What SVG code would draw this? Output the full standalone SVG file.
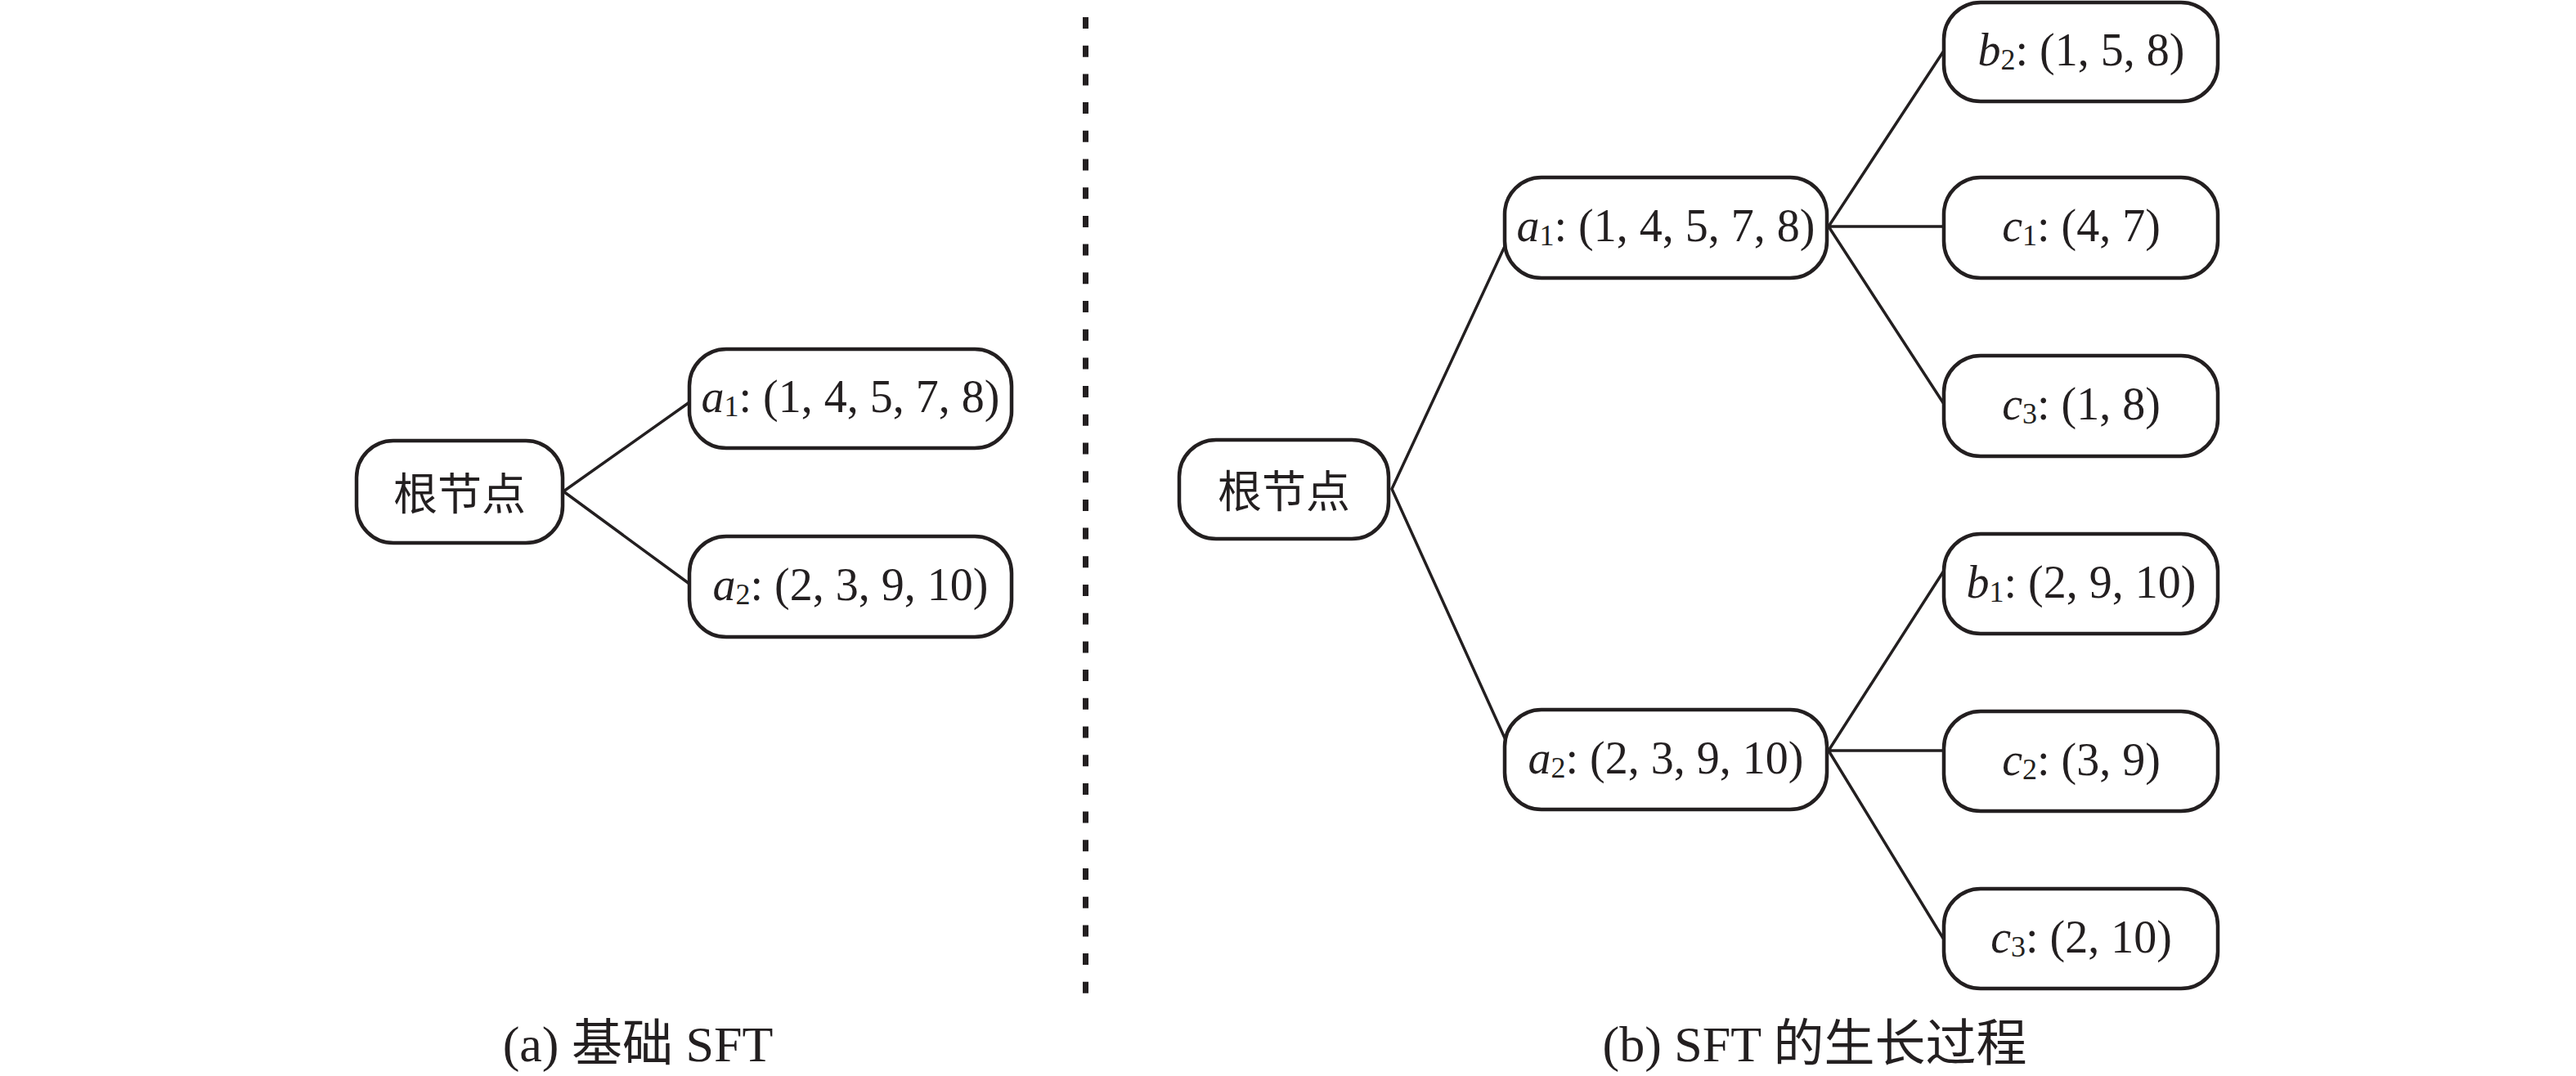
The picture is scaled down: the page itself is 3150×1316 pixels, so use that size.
<svg xmlns="http://www.w3.org/2000/svg" width="3150" height="1316" viewBox="0 0 3150 1316">
<style>
.box{fill:#fff;stroke:#231f20;stroke-width:4.5}
.ln{stroke:#231f20;stroke-width:3.5;fill:none;stroke-linecap:round}
.t{font-family:"Liberation Serif","Times New Roman",serif;font-size:56px;fill:#231f20;text-anchor:middle}
.cjk{font-family:"Noto Sans CJK SC",sans-serif;font-size:54px;fill:#231f20;text-anchor:middle}
.cap{font-family:"Liberation Serif","Noto Sans CJK SC",serif;font-size:62px;fill:#231f20;text-anchor:middle}
.i{font-style:italic}
.s{font-size:36px}
</style>
<rect width="3150" height="1316" fill="#fff"/>
<g id="connectors">
<path class="ln" d="M689,601 L843,492 M689,601 L843,714"/>
<path class="ln" d="M1702,598 L1842,297 M1702,598 L1842,907"/>
<path class="ln" d="M2236,277 L2377,62 M2236,277 L2377,277 M2236,277 L2377,494"/>
<path class="ln" d="M2236,918 L2377,698 M2236,918 L2377,918 M2236,918 L2377,1149"/>
</g>
<line id="divider" x1="1327.5" y1="21" x2="1327.5" y2="1215" stroke="#231f20" stroke-width="7" stroke-dasharray="14 20.7"/>
<g id="rootA"><rect class="box" x="436" y="539" width="252" height="125" rx="45" ry="45"/><text class="cjk" x="562" y="624">根节点</text></g>
<g id="a1A"><rect class="box" x="843" y="427" width="394" height="121" rx="45" ry="45"/><text class="t" x="1040" y="504"><tspan class="i">a</tspan><tspan class="s" dy="5">1</tspan><tspan dy="-5">: (1, 4, 5, 7, 8)</tspan></text></g>
<g id="a2A"><rect class="box" x="843" y="656" width="394" height="123" rx="45" ry="45"/><text class="t" x="1040" y="734"><tspan class="i">a</tspan><tspan class="s" dy="5">2</tspan><tspan dy="-5">: (2, 3, 9, 10)</tspan></text></g>
<g id="rootB"><rect class="box" x="1442" y="538" width="256" height="121" rx="45" ry="45"/><text class="cjk" x="1570" y="621">根节点</text></g>
<g id="a1B"><rect class="box" x="1840" y="217" width="394" height="123" rx="45" ry="45"/><text class="t" x="2037" y="295"><tspan class="i">a</tspan><tspan class="s" dy="5">1</tspan><tspan dy="-5">: (1, 4, 5, 7, 8)</tspan></text></g>
<g id="a2B"><rect class="box" x="1840" y="868" width="394" height="122" rx="45" ry="45"/><text class="t" x="2037" y="946"><tspan class="i">a</tspan><tspan class="s" dy="5">2</tspan><tspan dy="-5">: (2, 3, 9, 10)</tspan></text></g>
<g id="b2"><rect class="box" x="2377" y="3" width="335" height="121" rx="45" ry="45"/><text class="t" x="2545" y="80"><tspan class="i">b</tspan><tspan class="s" dy="5">2</tspan><tspan dy="-5">: (1, 5, 8)</tspan></text></g>
<g id="c1"><rect class="box" x="2377" y="217" width="335" height="123" rx="45" ry="45"/><text class="t" x="2545" y="295"><tspan class="i">c</tspan><tspan class="s" dy="5">1</tspan><tspan dy="-5">: (4, 7)</tspan></text></g>
<g id="c3a"><rect class="box" x="2377" y="435" width="335" height="123" rx="45" ry="45"/><text class="t" x="2545" y="513"><tspan class="i">c</tspan><tspan class="s" dy="5">3</tspan><tspan dy="-5">: (1, 8)</tspan></text></g>
<g id="b1"><rect class="box" x="2377" y="653" width="335" height="122" rx="45" ry="45"/><text class="t" x="2545" y="731"><tspan class="i">b</tspan><tspan class="s" dy="5">1</tspan><tspan dy="-5">: (2, 9, 10)</tspan></text></g>
<g id="c2"><rect class="box" x="2377" y="870" width="335" height="122" rx="45" ry="45"/><text class="t" x="2545" y="948"><tspan class="i">c</tspan><tspan class="s" dy="5">2</tspan><tspan dy="-5">: (3, 9)</tspan></text></g>
<g id="c3b"><rect class="box" x="2377" y="1087" width="335" height="122" rx="45" ry="45"/><text class="t" x="2545" y="1165"><tspan class="i">c</tspan><tspan class="s" dy="5">3</tspan><tspan dy="-5">: (2, 10)</tspan></text></g>
<text id="capA" class="cap" x="780" y="1298">(a) 基础 SFT</text>
<text id="capB" class="cap" x="2219" y="1298">(b) SFT 的生长过程</text>
</svg>
